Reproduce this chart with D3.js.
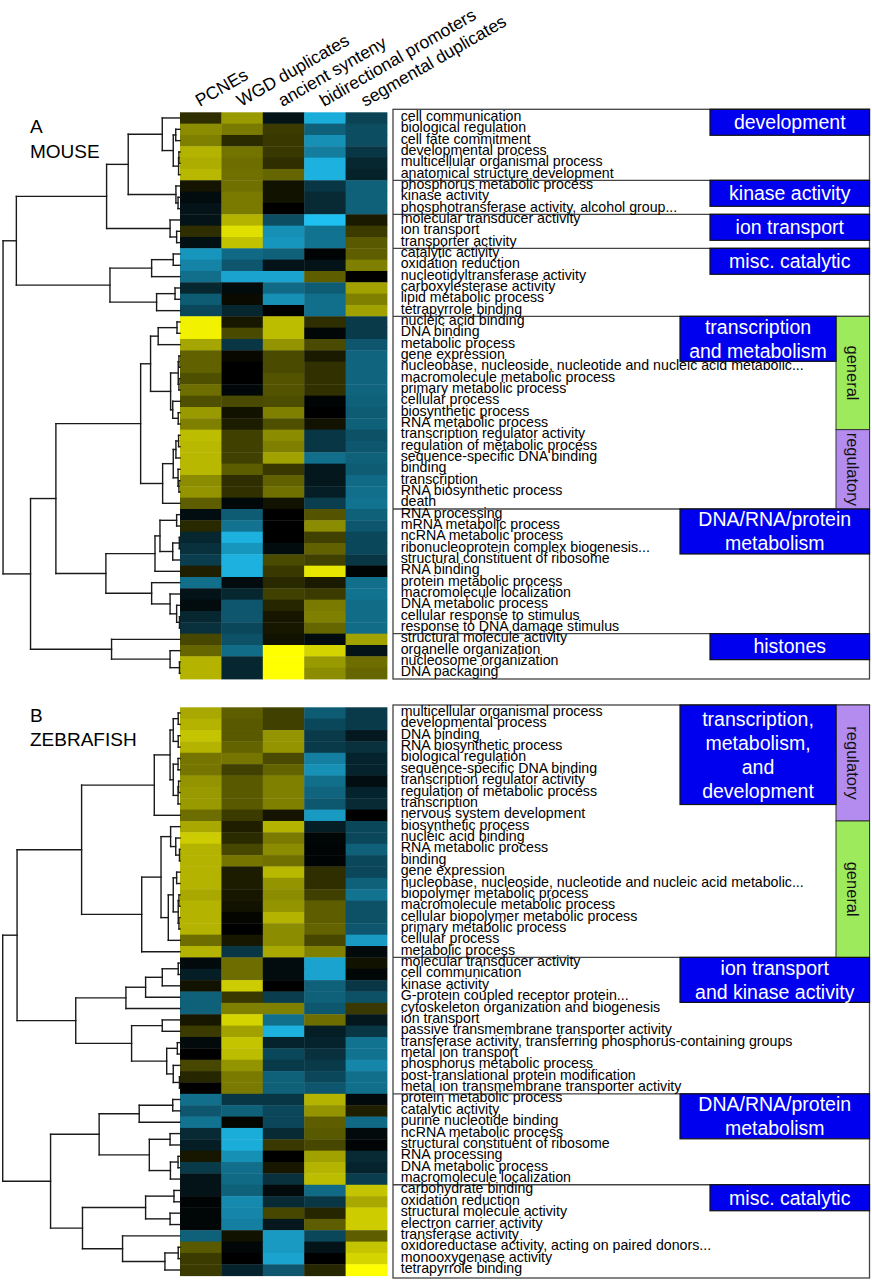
<!DOCTYPE html>
<html>
<head>
<meta charset="utf-8">
<script src="https://cdn.jsdelivr.net/npm/d3@7"></script>
<style>
  body { margin: 0; background: #fff; }
  svg text { font-family: "Liberation Sans", Arial, sans-serif; }
</style>
</head>
<body>
<div id="chart"></div>
<script>
// ---- data ----
const columns = ["PCNEs", "WGD duplicates", "ancient synteny", "bidirectional promoters", "segmental duplicates"];

const mouseTerms = ["cell communication", "biological regulation", "cell fate commitment", "developmental process",
  "multicellular organismal process", "anatomical structure development", "phosphorus metabolic process",
  "kinase activity", "phosphotransferase activity, alcohol group...", "molecular transducer activity",
  "ion transport", "transporter activity", "catalytic activity", "oxidation reduction",
  "nucleotidyltransferase activity", "carboxylesterase activity", "lipid metabolic process",
  "tetrapyrrole binding", "nucleic acid binding", "DNA binding", "metabolic process", "gene expression",
  "nucleobase, nucleoside, nucleotide and nucleic acid metabolic...", "macromolecule metabolic process",
  "primary metabolic process", "cellular process", "biosynthetic process", "RNA metabolic process",
  "transcription regulator activity", "regulation of metabolic process", "sequence-specific DNA binding",
  "binding", "transcription", "RNA biosynthetic process", "death", "RNA processing", "mRNA metabolic process",
  "ncRNA metabolic process", "ribonucleoprotein complex biogenesis...", "structural constituent of ribosome",
  "RNA binding", "protein metabolic process", "macromolecule localization", "DNA metabolic process",
  "cellular response to stimulus", "response to DNA damage stimulus", "structural molecule activity",
  "organelle organization", "nucleosome organization", "DNA packaging"];

// one row per term: PCNEs, WGD, ancient synteny, bidirectional, segmental (+ yellow, - cyan)
const mouseValues = [
  [0.18, 0.6, -0.1, -0.9, -0.35], [0.55, 0.48, 0.23, -0.5, -0.4], [0.5, 0.17, 0.22, -0.75, -0.4],
  [0.7, 0.45, 0.22, -0.65, -0.28], [0.68, 0.43, 0.18, -0.92, -0.2], [0.72, 0.44, 0.4, -0.92, -0.17],
  [0.08, 0.44, 0.07, -0.28, -0.5], [-0.06, 0.48, 0.07, -0.22, -0.5], [-0.1, 0.48, 0, -0.22, -0.5],
  [-0.1, 0.7, -0.4, -1.0, 0.1], [0.18, 0.88, -0.75, -0.6, 0.23], [-0.08, 0.76, -0.78, -0.6, 0.35],
  [-0.78, -0.55, -0.5, -0.02, 0.37], [-0.68, -0.45, -0.1, -0.1, 0.5], [-0.58, -0.85, -0.85, 0.37, 0],
  [-0.2, -0.05, -0.55, -0.48, 0.63], [-0.48, 0.04, -0.75, -0.58, 0.5], [-0.37, -0.2, 0, -0.58, 0.63],
  [0.95, 0.09, 0.74, 0.18, -0.3], [0.95, 0.29, 0.74, -0.03, -0.3], [0.65, -0.28, 0.58, 0.29, -0.45],
  [0.38, 0.03, 0.29, 0.1, -0.52], [0.38, 0, 0.29, 0.19, -0.52], [0.31, 0, 0.33, 0.19, -0.52],
  [0.43, -0.04, 0.33, 0.19, -0.52], [0.31, 0.29, 0.3, -0.02, -0.5], [0.6, 0.07, 0.5, 0, -0.48],
  [0.5, 0.11, 0.31, 0.07, -0.5], [0.74, 0.25, 0.55, -0.28, -0.42], [0.72, 0.25, 0.5, -0.28, -0.45],
  [0.72, 0.25, 0.63, -0.58, -0.5], [0.72, 0.36, 0.22, -0.12, -0.48], [0.55, 0.18, 0.38, -0.12, -0.55],
  [0.58, 0.19, 0.44, -0.15, -0.58], [0.37, -0.04, 0.07, -0.32, -0.6], [-0.07, -0.48, 0, 0.33, -0.5],
  [0.16, -0.6, 0, 0.55, -0.45], [-0.2, -0.92, 0, 0.25, -0.37], [-0.25, -0.78, -0.06, 0.38, -0.37],
  [-0.32, -0.92, 0.29, 0.25, -0.28], [0.12, -0.92, 0.22, 0.9, -0.02], [-0.58, -0.06, 0.16, 0.1, -0.58],
  [-0.1, -0.2, 0.25, 0.23, -0.6], [-0.06, -0.45, 0.15, 0.48, -0.56], [-0.2, -0.45, 0.09, 0.5, -0.56],
  [-0.25, -0.37, 0.09, 0.4, -0.56], [0.28, -0.42, 0.07, -0.06, 0.63], [0.4, -0.56, 1, 0.83, -0.1],
  [0.7, -0.2, 1, 0.6, 0.43], [0.7, -0.2, 1, 0.55, 0.4]];

// dendrogram merges: [left, right, distance]
const mouseTree = [
  [[[[0, [[1, 2, 0.024], [[3, 4, 0.006], 5, 0.008], 0.038], 0.1], [6, [7, 8, 0.011], 0.023], 0.292],
     [9, [10, 11, 0.019], 0.056], 0.414],
    [[[12, 13, 0.038], 14, 0.16], [[15, 16, 0.028], 17, 0.132], 0.395], 0.923],
  [[[[[[18, 19, 0.017], 20, 0.123],
      [[[21, 22, 0.006], [23, 24, 0.006], 0.01], [25, [26, 27, 0.01], 0.041], 0.053], 0.166],
     [[[[28, 29, 0.008], 30, 0.023], [31, [32, 33, 0.006], 0.011], 0.038], 34, 0.098], 0.222],
    [[[[35, 36, 0.019], [[37, 38, 0.004], 39, 0.041], 0.113], 40, 0.141],
     [41, [42, [43, [44, 45, 0.003], 0.019], 0.056], 0.16], 0.418], 0.7],
   [46, [47, [48, 49, 0.003], 0.056], 0.386], 0.843], 0.998];

const mouseGroups = [
  { label: ["development"], start: 0, size: 6 },
  { label: ["kinase activity"], start: 6, size: 3 },
  { label: ["ion transport"], start: 9, size: 3 },
  { label: ["misc. catalytic"], start: 12, size: 6 },
  { label: ["transcription", "and metabolism"], start: 18, size: 17 },
  { label: ["DNA/RNA/protein", "metabolism"], start: 35, size: 11 },
  { label: ["histones"], start: 46, size: 4 }];

const mouseSubsets = [
  { label: "general", start: 18, size: 10 },
  { label: "regulatory", start: 28, size: 7 }];

const zebraTerms = ["multicellular organismal process", "developmental process", "DNA binding",
  "RNA biosynthetic process", "biological regulation", "sequence-specific DNA binding",
  "transcription regulator activity", "regulation of metabolic process", "transcription",
  "nervous system development", "biosynthetic process", "nucleic acid binding", "RNA metabolic process",
  "binding", "gene expression", "nucleobase, nucleoside, nucleotide and nucleic acid metabolic...",
  "biopolymer metabolic process", "macromolecule metabolic process", "cellular biopolymer metabolic process",
  "primary metabolic process", "cellular process", "metabolic process", "molecular transducer activity",
  "cell communication", "kinase activity", "G-protein coupled receptor protein...",
  "cytoskeleton organization and biogenesis", "ion transport", "passive transmembrane transporter activity",
  "transferase activity, transferring phosphorus-containing groups", "metal ion transport",
  "phosphorus metabolic process", "post-translational protein modification",
  "metal ion transmembrane transporter activity", "protein metabolic process", "catalytic activity",
  "purine nucleotide binding", "ncRNA metabolic process", "structural constituent of ribosome",
  "RNA processing", "DNA metabolic process", "macromolecule localization", "carbohydrate binding",
  "oxidation reduction", "structural molecule activity", "electron carrier activity", "transferase activity",
  "oxidoreductase activity, acting on paired donors...", "monooxygenase activity", "tetrapyrrole binding"];

const zebraValues = [
  [0.66, 0.37, 0.25, -0.48, -0.3], [0.7, 0.35, 0.25, -0.37, -0.3], [0.77, 0.35, 0.58, -0.3, -0.13],
  [0.7, 0.39, 0.58, -0.3, -0.25], [0.46, 0.46, 0.29, -0.66, -0.18], [0.46, 0.25, 0.39, -0.75, -0.18],
  [0.58, 0.35, 0.5, -0.58, -0.07], [0.6, 0.35, 0.5, -0.52, -0.18], [0.6, 0.35, 0.5, -0.46, -0.22],
  [0.43, 0.23, 0.08, -0.8, 0], [0.66, 0.12, 0.7, -0.15, -0.37], [0.8, 0.17, 0.48, -0.03, -0.37],
  [0.7, 0.28, 0.55, -0.02, -0.5], [0.7, 0.46, 0.44, -0.02, -0.37], [0.7, 0.11, 0.72, 0.18, -0.37],
  [0.7, 0.11, 0.58, 0.18, -0.5], [0.66, 0.09, 0.55, 0.25, -0.6], [0.7, 0.07, 0.58, 0.37, -0.42],
  [0.7, 0.02, 0.7, 0.37, -0.42], [0.7, 0, 0.55, 0.39, -0.45], [0.43, 0.09, 0.55, 0.28, -0.8],
  [0.7, -0.28, 0.66, 0.5, -0.05], [-0.05, 0.43, -0.06, -0.85, 0.07], [-0.15, 0.43, -0.06, -0.85, -0.03],
  [0.07, 0.8, 0, -0.5, -0.28], [-0.5, 0.22, -0.32, -0.5, -0.42], [-0.5, 0.5, 0.5, -0.46, 0.22],
  [0.09, 0.83, -0.58, 0.43, -0.12], [0.23, 0.63, -0.92, -0.15, -0.28], [-0.05, 0.77, -0.18, -0.18, -0.6],
  [0, 0.74, -0.37, -0.25, -0.6], [0.28, 0.58, -0.3, -0.3, -0.7], [0.15, 0.48, -0.5, -0.37, -0.58],
  [0, 0.48, -0.5, -0.45, -0.58], [-0.58, -0.28, -0.28, 0.7, -0.05], [-0.45, -0.5, -0.37, 0.58, 0.12],
  [-0.6, 0.02, -0.37, 0.37, -0.55], [-0.22, -0.9, -0.22, 0.35, -0.05], [-0.15, -0.9, 0.22, 0.28, -0.02],
  [0.09, -0.75, 0, 0.63, -0.22], [-0.3, -0.58, 0.09, 0.7, -0.18], [-0.1, -0.55, -0.25, 0.74, -0.32],
  [-0.1, -0.5, -0.05, -0.55, 0.77], [-0.02, -0.72, -0.22, -0.28, 0.66], [-0.03, -0.7, 0.28, 0.15, 0.8],
  [-0.03, -0.66, -0.12, 0.37, 0.8], [-0.5, 0.07, -0.8, -0.37, 0.37], [0.35, -0.03, -0.8, -0.1, 0.77],
  [0.23, 0, -0.85, 0, 0.83], [0.23, -0.18, -0.45, 0.15, 1]];

const zebraTree = [
  [
    [
      [[[[0, 1, 0.01], [2, 3, 0.01], 0.038], [[4, 5, 0.011], [[6, 7, 0.008], 8, 0.011], 0.038], 0.056], 9, 0.145],
      [[[10, [11, [12, 13, 0.003], 0.024], 0.053],
        [[[14, 15, 0.019], [[16, 17, 0.006], [18, 19, 0.006], 0.01], 0.038], 20, 0.066], 0.107], 21, 0.216],
      0.555],
    [
      [[[[22, 23, 0.01], 24, 0.1], 25, 0.194], 26, 0.305],
      [[27, 28, 0.1], [[29, 30, 0.015], [31, [32, 33, 0.003], 0.038], 0.075], 0.273],
      0.588],
    0.919],
  [
    [[[34, 35, 0.041], 36, 0.23], [[37, 38, 0.056], [[39, 40, 0.011], 41, 0.054], 0.173], 0.456],
    [[[42, 43, 0.034], [44, 45, 0.056], 0.194], [46, [[47, 48, 0.01], 49, 0.085], 0.324], 0.55],
    0.73],
  1.0];

const zebraGroups = [
  { label: ["transcription,", "metabolism,", "and", "development"], start: 0, size: 22 },
  { label: ["ion transport", "and kinase activity"], start: 22, size: 12 },
  { label: ["DNA/RNA/protein", "metabolism"], start: 34, size: 8 },
  { label: ["misc. catalytic"], start: 42, size: 8 }];

const zebraSubsets = [
  { label: "regulatory", start: 0, size: 10 },
  { label: "general", start: 10, size: 12 }];

// ---- chart ----
let svg, colorScale, xCol, xDist;

const init = () => {
  svg = d3.select("#chart").append("svg")
    .attr("width", 872)
    .attr("height", 1280);

  colorScale = d3.scaleLinear()
    .domain([-1, 0, 1])
    .range(["#1ec0f2", "#000000", "#ffff00"])
    .clamp(true);

  xCol = d3.scaleBand().domain(columns).range([180, 387]);
  xDist = d3.scaleLinear().domain([0, 1]).range([180, 2.7]);

  createHeader();
  createPanel({ letter: "A", name: "MOUSE", terms: mouseTerms, values: mouseValues, tree: mouseTree,
    groups: mouseGroups, subsets: mouseSubsets, top: 112.3, bottom: 679, boxTop: 109.3, boxBottom: 679,
    titleY: 133 });
  createPanel({ letter: "B", name: "ZEBRAFISH", terms: zebraTerms, values: zebraValues, tree: zebraTree,
    groups: zebraGroups, subsets: zebraSubsets, top: 707.3, bottom: 1275.7, boxTop: 705, boxBottom: 1278,
    titleY: 721.5 });
};

const createHeader = () => {
  svg.append("g")
    .selectAll("text")
    .data(columns)
    .enter()
    .append("text")
    .attr("transform", d => `translate(${xCol(d) + xCol.bandwidth() / 2 - 1}, 107) rotate(-30)`)
    .style("font-size", "17.5px")
    .attr("fill", "#000")
    .text(d => d);
};

// height of a blue category box from its number of text lines
const boxHeight = n => n === 2 ? 45 : n * 24.5 + 1.5;

const createPanel = (p) => {
  const g = svg.append("g");
  const y = d3.scaleBand().domain(d3.range(p.terms.length)).range([p.top, p.bottom]);
  const rowY = i => i >= p.terms.length ? p.bottom : y(i);

  // panel title
  g.append("text").attr("x", 30).attr("y", p.titleY).style("font-size", "19px").text(p.letter);
  g.append("text").attr("x", 30).attr("y", p.titleY + 24.5).style("font-size", "19px").text(p.name);

  // heatmap cells
  const cells = [];
  p.values.forEach((row, i) => row.forEach((v, j) => cells.push({ row: i, col: columns[j], v })));
  g.append("g")
    .selectAll("rect")
    .data(cells)
    .enter()
    .append("rect")
    .attr("x", d => xCol(d.col))
    .attr("y", d => y(d.row))
    .attr("width", xCol.bandwidth() + 0.4)
    .attr("height", y.bandwidth() + 0.4)
    .attr("fill", d => colorScale(d.v));

  // dendrogram
  const segs = [];
  const walk = node => {
    if (typeof node === "number") return { y: y(node) + y.bandwidth() / 2, h: 0 };
    const a = walk(node[0]), b = walk(node[1]), h = node[2];
    segs.push([xDist(h), a.y, xDist(h), b.y]);
    segs.push([xDist(h), a.y, xDist(a.h), a.y]);
    segs.push([xDist(h), b.y, xDist(b.h), b.y]);
    return { y: (a.y + b.y) / 2, h };
  };
  walk(p.tree);
  g.append("g")
    .selectAll("line")
    .data(segs)
    .enter()
    .append("line")
    .attr("x1", d => d[0]).attr("y1", d => d[1])
    .attr("x2", d => d[2]).attr("y2", d => d[3])
    .attr("stroke", "#1a1a1a")
    .attr("stroke-width", 1.4)
    .attr("stroke-linecap", "square");

  // term list box
  const bx0 = 393, bx1 = 869.5;
  g.append("rect")
    .attr("x", bx0).attr("y", p.boxTop)
    .attr("width", bx1 - bx0).attr("height", p.boxBottom - p.boxTop)
    .attr("fill", "none").attr("stroke", "#444").attr("stroke-width", 1.3);

  g.append("g")
    .selectAll("line")
    .data(p.groups.slice(1))
    .enter()
    .append("line")
    .attr("x1", bx0).attr("x2", bx1)
    .attr("y1", d => rowY(d.start)).attr("y2", d => rowY(d.start))
    .attr("stroke", "#444").attr("stroke-width", 1.3);

  g.append("g")
    .selectAll("text")
    .data(p.terms)
    .enter()
    .append("text")
    .attr("x", 400.7)
    .attr("y", (d, i) => y(i) + y.bandwidth() / 2 + 3)
    .style("font-size", "14.2px")
    .attr("fill", "#000")
    .text(d => d);

  // side bars (general / regulatory)
  const sideX0 = 836;
  const subTop = s => s.start === 0 ? p.boxTop : rowY(s.start);
  const side = g.append("g")
    .selectAll("g")
    .data(p.subsets)
    .enter()
    .append("g");
  side.append("rect")
    .attr("x", sideX0).attr("y", d => subTop(d))
    .attr("width", bx1 - sideX0)
    .attr("height", d => rowY(d.start + d.size) - subTop(d))
    .attr("fill", d => d.label === "general" ? "#9dea5c" : "#b48cf0")
    .attr("stroke", "#333").attr("stroke-width", 1);
  side.append("text")
    .attr("transform", d => `translate(${(sideX0 + bx1) / 2}, ${(subTop(d) + rowY(d.start + d.size)) / 2}) rotate(90)`)
    .attr("text-anchor", "middle")
    .attr("dy", "0.35em")
    .style("font-size", "16.5px")
    .attr("fill", "#111")
    .text(d => d.label);

  // category boxes
  const hasSide = gr => p.subsets.some(s => s.start >= gr.start && s.start < gr.start + gr.size);
  const grTop = gr => gr.start === 0 ? p.boxTop : rowY(gr.start);
  const cat = g.append("g")
    .selectAll("g")
    .data(p.groups)
    .enter()
    .append("g");
  cat.append("rect")
    .attr("x", d => d.label.length > 1 ? 680 : 710)
    .attr("y", d => grTop(d))
    .attr("width", d => (hasSide(d) ? sideX0 : bx1) - (d.label.length > 1 ? 680 : 710))
    .attr("height", d => boxHeight(d.label.length))
    .attr("fill", "#0000ee")
    .attr("stroke", "#111").attr("stroke-width", 1.2);
  cat.each(function(d) {
    const x0 = d.label.length > 1 ? 680 : 710, x1 = hasSide(d) ? sideX0 : bx1;
    const cy = grTop(d) + boxHeight(d.label.length) / 2;
    d3.select(this).selectAll("text")
      .data(d.label)
      .enter()
      .append("text")
      .attr("x", (x0 + x1) / 2)
      .attr("y", (t, i) => cy + (i - (d.label.length - 1) / 2) * 24 + 6.8)
      .attr("text-anchor", "middle")
      .style("font-size", "19.5px")
      .attr("fill", "#fff")
      .text(t => t);
  });
};

init();
</script>
</body>
</html>
